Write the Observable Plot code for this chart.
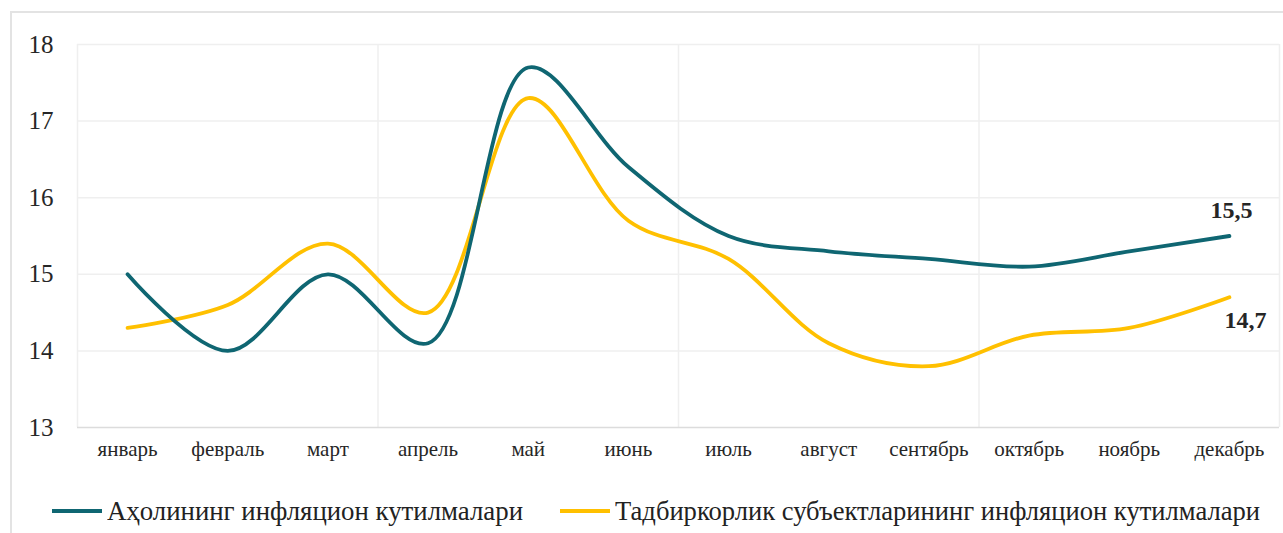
<!DOCTYPE html>
<html>
<head>
<meta charset="utf-8">
<script src="https://cdn.jsdelivr.net/npm/d3@7"></script>
<script src="https://cdn.jsdelivr.net/npm/@observablehq/plot@0.6"></script>
<style>
  body { margin: 0; background: #fff; width: 1283px; height: 533px; overflow: hidden; position: relative; }
  #frame { position: absolute; left: 10px; top: 11px; width: 1300px; height: 560px; border-left: 2px solid #e3e3e3; border-top: 2px solid #e3e3e3; }
  #chart { position: absolute; left: 0; top: 0; }
  #chart svg, #chart svg text, #chart svg g { font-family: 'Liberation Serif' !important; }
  #legend { position: absolute; left: 0; top: 493px; width: 1283px; height: 36px; color: #222; }
  .item { position: absolute; top: 0; display: flex; align-items: center; height: 36px; white-space: nowrap; }
  .sw { display: inline-block; width: 50px; height: 4px; margin-right: 5px; flex: none; }
  .txt { display: inline-block; font-family: 'Liberation Serif'; font-size: 28px; transform-origin: 0 50%; }
</style>
</head>
<body>
<div id="frame"></div>
<div id="chart"></div>
<div id="legend"></div>
<script>
const months = ["январь","февраль","март","апрель","май","июнь","июль","август","сентябрь","октябрь","ноябрь","декабрь"];
const population = [15.0, 14.0, 15.0, 14.1, 17.7, 16.4, 15.5, 15.3, 15.2, 15.1, 15.3, 15.5];
const business = [14.3, 14.6, 15.4, 14.5, 17.3, 15.7, 15.2, 14.1, 13.8, 14.2, 14.3, 14.7];
const seriesNames = ["Аҳолининг инфляцион кутилмалари", "Тадбиркорлик субъектларининг инфляцион кутилмалари"];
const colors = ["#0f6672", "#ffc000"];
const yTicks = [13, 14, 15, 16, 17, 18];
const labels = ["15,5", "14,7"];

const popData = population.map((v, i) => ({i, v}));
const busData = business.map((v, i) => ({i, v}));
const last = months.length - 1;

const chart = Plot.plot({
  width: 1283,
  height: 470,
  marginLeft: 77,
  marginRight: 4,
  marginTop: 44,
  marginBottom: 43,
  style: {background: "transparent", color: "#262626"},
  x: {domain: [-0.5, months.length - 0.5], label: null},
  y: {domain: [13, 18], label: null},
  marks: [
    Plot.ruleY(yTicks.slice(1), {stroke: "#efefef", strokeWidth: 1.5}),
    Plot.ruleX([-0.5, 2.5, 5.5, 8.5, 11.5], {stroke: "#efefef", strokeWidth: 1.5}),
    Plot.ruleY([13], {stroke: "#dcdcdc", strokeWidth: 1.5}),
    Plot.axisY({ticks: yTicks, tickSize: 0, tickPadding: 24, fontSize: 25, label: null, tickFormat: d => String(d)}),
    Plot.axisX({ticks: d3.range(months.length), tickSize: 0, tickPadding: 14, fontSize: 21, label: null, tickFormat: i => months[i]}),
    Plot.lineY(busData, {x: "i", y: "v", stroke: colors[1], strokeWidth: 3.8, curve: "catmull-rom"}),
    Plot.lineY(popData, {x: "i", y: "v", stroke: colors[0], strokeWidth: 3.8, curve: "catmull-rom"}),
    Plot.text([popData[last]], {x: "i", y: "v", text: () => labels[0], dy: -26, dx: 2, fontSize: 24, fontWeight: "bold", fill: "#262626"}),
    Plot.text([busData[last]], {x: "i", y: "v", text: () => labels[1], dy: 23, dx: 16, fontSize: 24, fontWeight: "bold", fill: "#262626"})
  ]
});
document.getElementById("chart").appendChild(chart);

const legend = document.getElementById("legend");
const lefts = [52, 560];
const targetWidths = [416, 645];
seriesNames.forEach((name, k) => {
  const item = document.createElement("div");
  item.className = "item";
  item.style.left = lefts[k] + "px";
  const sw = document.createElement("span");
  sw.className = "sw";
  sw.style.background = colors[k];
  const txt = document.createElement("span");
  txt.className = "txt";
  txt.textContent = name;
  item.appendChild(sw);
  item.appendChild(txt);
  legend.appendChild(item);
  const w = txt.getBoundingClientRect().width;
  txt.style.transform = `scaleX(${targetWidths[k] / w})`;
});
</script>
</body>
</html>
